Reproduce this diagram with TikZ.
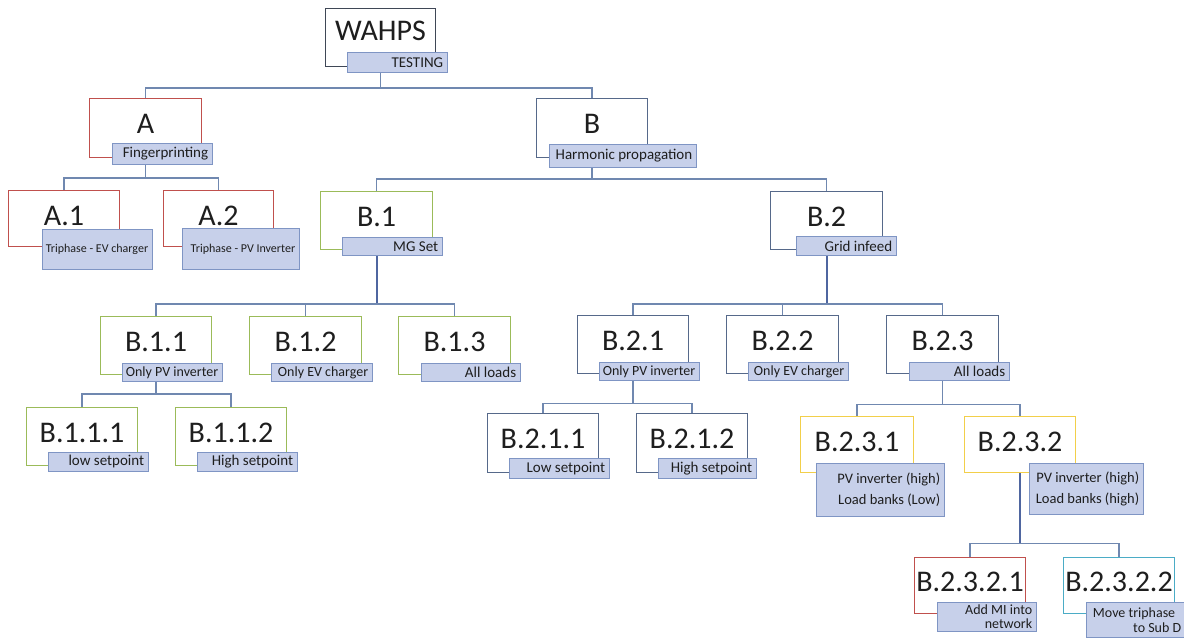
\documentclass[tikz,border=0pt]{standalone}
\usepackage{fontspec}
\setmainfont{Carlito}
\usetikzlibrary{backgrounds}
\definecolor{cRed}{HTML}{C0504D}
\definecolor{cGreen}{HTML}{9BBB59}
\definecolor{cBlue}{HTML}{56698A}
\definecolor{cDark}{HTML}{3F4756}
\definecolor{cYel}{HTML}{F2CF4A}
\definecolor{cTeal}{HTML}{4BACC6}
\definecolor{labFill}{HTML}{C7D0EA}
\definecolor{labDraw}{HTML}{7F95C4}
\definecolor{connC}{HTML}{7088B0}
\definecolor{connD}{HTML}{4F66A0}
\definecolor{txt}{HTML}{1E1E1E}
% element box: name, colour, x, y, w, h, title offset, title
\newcommand\mkel[8]{%
  \node[box=#2,minimum width=#5pt,minimum height=#6pt] (#1) at (#3,#4) {};
  \path (#1.north) ++(0,#7) node[ttl] (#1t) {#8};}
% label: name, x, y, w, h, font, text
\newcommand\mklab[7]{%
  \node[lab,minimum width=#4pt,minimum height=#5pt] (#1) at (#2,#3) {};
  \node[labtxt,font=#6] (#1t) at ([xshift=-4.5pt]#1.east) {#7};}
\newcommand\labfnt{\fontsize{15}{18}\selectfont}
\newcommand\onlyfnt{\fontsize{14}{17}\selectfont}
\newcommand\smlfnt{\fontsize{12}{14}\selectfont}
\begin{document}
\begin{tikzpicture}[x=1pt,y=-1pt,
  box/.style={draw=#1, line width=1.1pt, fill=white, anchor=north west, inner sep=0pt},
  ttl/.style={inner sep=0pt, font=\fontsize{30}{36}\selectfont, text=txt},
  lab/.style={draw=labDraw, line width=0.9pt, fill=labFill, anchor=north west, inner sep=0pt},
  labtxt/.style={anchor=east, inner sep=0pt, align=right, text=txt},
  conn/.style={draw=connC, line width=1.2pt},
  connB/.style={draw=connD, line width=1.9pt},
]
\useasboundingbox (0,0) rectangle (1184,644);

% boxes
\mkel{W}{cDark}{325}{8}{110}{58}{23}{WAHPS}
\mkel{A}{cRed}{89}{98}{112}{59}{26}{A}
\mkel{B}{cBlue}{536}{98}{111}{59}{26}{B}
\mkel{A1}{cRed}{8}{190}{111}{56}{26}{A.1}
\mkel{A2}{cRed}{163}{190}{110}{56}{26}{A.2}
\mkel{B1}{cGreen}{320}{191}{112}{58}{26}{B.1}
\mkel{B2}{cBlue}{770}{191}{112}{58}{26}{B.2}
\mkel{B11}{cGreen}{100}{316}{111}{58}{26}{B.1.1}
\mkel{B12}{cGreen}{249}{316}{112}{58}{26}{B.1.2}
\mkel{B13}{cGreen}{398}{316}{112}{58}{26}{B.1.3}
\mkel{B111}{cGreen}{26}{407}{111}{58}{26}{B.1.1.1}
\mkel{B112}{cGreen}{175}{407}{111}{58}{26}{B.1.1.2}
\mkel{B21}{cBlue}{577}{315}{111}{58}{26}{B.2.1}
\mkel{B22}{cBlue}{726}{315}{112}{58}{26}{B.2.2}
\mkel{B23}{cBlue}{886}{315}{112}{58}{26}{B.2.3}
\mkel{B211}{cBlue}{487}{413}{111}{59}{26}{B.2.1.1}
\mkel{B212}{cBlue}{636}{413}{111}{59}{26}{B.2.1.2}
\mkel{B231}{cYel}{800}{416}{113}{56}{26}{B.2.3.1}
\mkel{B232}{cYel}{964}{416}{111}{56}{26}{B.2.3.2}
\mkel{B2321}{cRed}{914}{557}{111}{56}{25}{B.2.3.2.1}
\mkel{B2322}{cTeal}{1063}{557}{111}{56}{25}{B.2.3.2.2}

% labels
\mklab{Wl}{347}{52}{100}{20}{\labfnt}{TESTING}
\mklab{Al}{112}{143}{100}{21}{\labfnt}{Fingerprinting}
\mklab{Bl}{549}{144}{147}{23}{\labfnt}{Harmonic propagation}
\mklab{A1l}{42}{229}{110}{40}{\smlfnt}{Triphase - EV charger}
\mklab{A2l}{182}{228}{117}{41}{\smlfnt}{Triphase - PV Inverter}
\mklab{B1l}{342}{237}{100}{18}{\labfnt}{MG Set}
\mklab{B2l}{796}{236}{100}{19}{\labfnt}{Grid infeed}
\mklab{B11l}{122}{363}{100}{18}{\onlyfnt}{Only PV inverter}
\mklab{B12l}{271}{363}{101}{18}{\onlyfnt}{Only EV charger}
\mklab{B13l}{421}{363}{99}{18}{\labfnt}{All loads}
\mklab{B111l}{48}{452}{100}{19}{\labfnt}{low setpoint}
\mklab{B112l}{197}{452}{100}{19}{\labfnt}{High setpoint}
\mklab{B21l}{599}{362}{100}{18}{\onlyfnt}{Only PV inverter}
\mklab{B22l}{748}{362}{100}{18}{\onlyfnt}{Only EV charger}
\mklab{B23l}{909}{362}{100}{18}{\labfnt}{All loads}
\mklab{B211l}{509}{458}{100}{20}{\labfnt}{Low setpoint}
\mklab{B212l}{658}{458}{98}{20}{\labfnt}{High setpoint}
\mklab{B231l}{816}{463}{128}{53}{\fontsize{14.5}{21}\selectfont}{PV inverter (high)\\Load banks (Low)}
\mklab{B232l}{1029}{463}{114}{51}{\fontsize{14.5}{21}\selectfont}{PV inverter (high)\\Load banks (high)}
\mklab{B2321l}{937}{602}{99}{29}{\fontsize{14}{14}\selectfont}{Add MI into\\network}
\mklab{B2322l}{1086}{602}{99}{35}{\fontsize{14}{15}\selectfont}{Move triphase\hspace*{6pt}\\to Sub D}

% connectors
\begin{pgfonlayer}{background}
\fill[white] (0,0) rectangle (1184,644);
\path (W.south) ++(0,21) coordinate (bW);
\draw[conn] (W.south) -- (bW);
\draw[conn] (A.north) |- (bW) -| (B.north);

\path (A.south) ++(0,20) coordinate (bA);
\draw[conn] (A.south) -- (bA);
\draw[conn] (A1.north) |- (bA) -| (A2.north);

\path (B.south) ++(0,21) coordinate (bB);
\draw[conn] (B.south) -- (bB);
\draw[conn] (B1.north) |- (bB) -| (B2.north);

\path (B1.south) ++(0,54) coordinate (bB1);
\draw[connB] (B1.south) -- (bB1);
\draw[conn] (B11.north) |- (bB1) -| (B13.north);
\draw[conn] (B12.north) -- (B12.north |- bB1);

\path (B2.south) ++(0,54) coordinate (bB2);
\draw[connB] (B2.south) -- (bB2);
\draw[conn] (B21.north) |- (bB2) -| (B23.north);
\draw[conn] (B22.north) -- (B22.north |- bB2);

\path (B11.south) ++(0,19) coordinate (bB11);
\draw[conn] (B11.south) -- (bB11);
\draw[conn] (B111.north) |- (bB11) -| (B112.north);

\path (B21.south) ++(0,29) coordinate (bB21);
\draw[conn] (B21.south) -- (bB21);
\draw[conn] (B211.north) |- (bB21) -| (B212.north);

\path (B23.south) ++(0,30) coordinate (bB23);
\draw[conn] (B23.south) -- (bB23);
\draw[conn] (B231.north) |- (bB23) -| (B232.north);

\path (B232.south) ++(0,70) coordinate (bB232);
\draw[connB] (B232.south) -- (bB232);
\draw[conn] (B2321.north) |- (bB232) -| (B2322.north);
\end{pgfonlayer}
\end{tikzpicture}
\end{document}
